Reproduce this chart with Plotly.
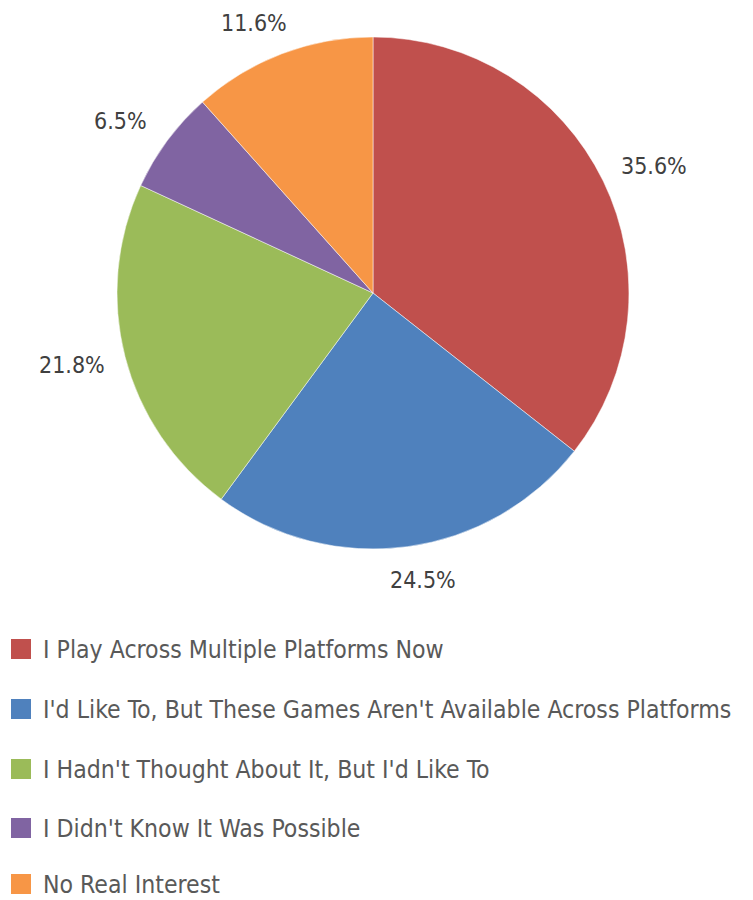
import math
import plotly.graph_objects as go

# Survey answers, in the order the slices run clockwise from 12 o'clock
categories = [
    "I Play Across Multiple Platforms Now",
    "I'd Like To, But These Games Aren't Available Across Platforms",
    "I Hadn't Thought About It, But I'd Like To",
    "I Didn't Know It Was Possible",
    "No Real Interest",
]
shares = [35.6, 24.5, 21.8, 6.5, 11.6]
colors = ["#C0504D", "#4F81BD", "#9BBB59", "#8064A2", "#F79646"]

W, H = 753, 900
FONT = "DejaVu Sans Condensed, Liberation Sans Narrow, sans-serif"

# Pie placement in pixels
cx, cy, r = 373, 293, 256

fig = go.Figure(
    go.Pie(
        labels=categories,
        values=shares,
        marker=dict(colors=colors, line=dict(color="white", width=0.5)),
        sort=False,
        direction="clockwise",
        rotation=0,
        textinfo="none",
        hoverinfo="label+percent",
        showlegend=False,
        domain=dict(x=[(cx - r) / W, (cx + r) / W], y=[1 - (cy + r) / H, 1 - (cy - r) / H]),
    )
)

# Percentage labels just outside each slice, positioned from the slice mid-angle
total = sum(shares)
cum = 0.0
hw, hh = 34, 13
for v in shares:
    mid = (cum + v / 2) / total * 2 * math.pi
    cum += v
    s, c = math.sin(mid), math.cos(mid)
    px = cx + r * 1.08 * s + hw * math.copysign(math.sqrt(abs(s)), s)
    py = cy - r * 1.08 * c - hh * c
    fig.add_annotation(
        x=px / W, y=1 - py / H, xref="paper", yref="paper",
        text=f"{v:.1f}%", showarrow=False, xanchor="center", yanchor="middle",
        font=dict(family=FONT, size=23, color="#404040"),
    )

# Legend: coloured squares with labels, one row per answer
row_y = [649, 709, 769, 828, 884]
for lab, col, ym in zip(categories, colors, row_y):
    fig.add_shape(
        type="rect", xref="paper", yref="paper",
        x0=11 / W, x1=31 / W, y0=1 - (ym + 10) / H, y1=1 - (ym - 10) / H,
        fillcolor=col, line=dict(width=0),
    )
    fig.add_annotation(
        x=41 / W, y=1 - ym / H, xref="paper", yref="paper",
        text=lab, showarrow=False, xanchor="left", yanchor="middle",
        font=dict(family=FONT, size=24.6, color="#595959"),
    )

fig.update_layout(
    width=W, height=H,
    margin=dict(l=0, r=0, t=0, b=0),
    paper_bgcolor="white", plot_bgcolor="white",
)

fig.write_html("out.html")
